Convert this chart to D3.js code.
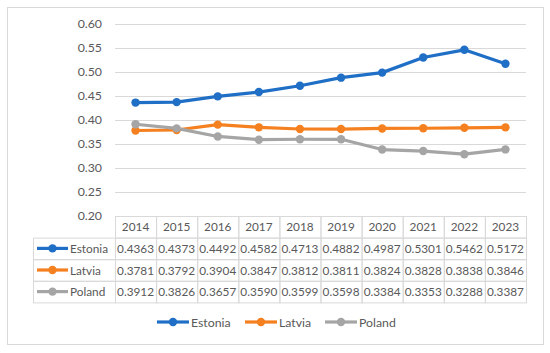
<!DOCTYPE html>
<html lang="en">
<head>
  <meta charset="UTF-8" />
  <script src="https://d3js.org/d3.v7.min.js"></script>
  <style>
    body { margin: 0; background: #fff; }
    text { font-family: Lato, "Open Sans", sans-serif; fill: #595959; }
  </style>
</head>
<body>
  <svg width="550" height="353"></svg>

  <script>
    const years = ["2014", "2015", "2016", "2017", "2018", "2019", "2020", "2021", "2022", "2023"];
    const estonia = [0.4363, 0.4373, 0.4492, 0.4582, 0.4713, 0.4882, 0.4987, 0.5301, 0.5462, 0.5172];
    const latvia = [0.3781, 0.3792, 0.3904, 0.3847, 0.3812, 0.3811, 0.3824, 0.3828, 0.3838, 0.3846];
    const poland = [0.3912, 0.3826, 0.3657, 0.3590, 0.3599, 0.3598, 0.3384, 0.3353, 0.3288, 0.3387];
    const yTicks = [0.20, 0.25, 0.30, 0.35, 0.40, 0.45, 0.50, 0.55, 0.60];

    const series = [
      { name: "Estonia", values: estonia, color: "#1f6fc6" },
      { name: "Latvia", values: latvia, color: "#f5801f" },
      { name: "Poland", values: poland, color: "#a5a5a5" }
    ];

    const fs = 11.8;
    const svg = d3.select("svg");

    // outer chart frame
    svg.append("rect")
      .attr("x", 7.5).attr("y", 7.5)
      .attr("width", 536).attr("height", 337)
      .attr("fill", "#fff")
      .attr("stroke", "#d9d9d9");

    const plotL = 115, plotR = 526, plotT = 24, plotB = 216;

    const x = d3.scaleBand().domain(years).range([plotL, plotR]);
    const y = d3.scaleLinear().domain([0.2, 0.6]).range([plotB, plotT]);

    // gridlines
    svg.append("g").selectAll("line")
      .data(yTicks)
      .enter().append("line")
      .attr("x1", plotL).attr("x2", plotR)
      .attr("y1", d => Math.round(y(d)) + 0.5)
      .attr("y2", d => Math.round(y(d)) + 0.5)
      .attr("stroke", "#d9d9d9")
      .attr("stroke-width", 1);

    // y axis labels
    const yAxis = svg.append("g")
      .attr("transform", `translate(${plotL - 13},0)`)
      .call(d3.axisLeft(y).tickValues(yTicks).tickFormat(d3.format(".2f")).tickSize(0).tickPadding(0));
    yAxis.select(".domain").remove();
    yAxis.selectAll("text")
      .attr("font-size", fs + 0.5)
      .attr("fill", "#595959")
      .style("font-family", "Lato, sans-serif");

    // lines
    const line = d3.line()
      .x((d, i) => x(years[i]) + x.bandwidth() / 2)
      .y(d => y(d));

    series.forEach(s => {
      svg.append("path")
        .datum(s.values)
        .attr("d", line)
        .attr("fill", "none")
        .attr("stroke", s.color)
        .attr("stroke-width", 3.2)
        .attr("stroke-linejoin", "round");
      svg.append("g").selectAll("circle")
        .data(s.values)
        .enter().append("circle")
        .attr("cx", (d, i) => x(years[i]) + x.bandwidth() / 2)
        .attr("cy", d => y(d))
        .attr("r", 4.2)
        .attr("fill", s.color);
    });

    // data table
    const rowH = 21.6;
    const tableTop = plotB;
    const labelLeft = 33;
    const table = svg.append("g");
    const border = "#d9d9d9";

    // header row (years)
    years.forEach(yr => {
      table.append("rect")
        .attr("x", x(yr) + 0.5).attr("y", tableTop + 0.5)
        .attr("width", x.bandwidth()).attr("height", rowH)
        .attr("fill", "none").attr("stroke", border);
      table.append("text")
        .attr("x", x(yr) + x.bandwidth() / 2)
        .attr("y", tableTop + rowH / 2 + 4.5)
        .attr("text-anchor", "middle")
        .attr("font-size", fs)
        .text(yr);
    });

    series.forEach((s, r) => {
      const ry = tableTop + rowH * (r + 1);
      table.append("rect")
        .attr("x", labelLeft + 0.5).attr("y", ry + 0.5)
        .attr("width", plotL - labelLeft).attr("height", rowH)
        .attr("fill", "none").attr("stroke", border);
      table.append("line")
        .attr("x1", 37).attr("x2", 68)
        .attr("y1", ry + rowH / 2).attr("y2", ry + rowH / 2)
        .attr("stroke", s.color).attr("stroke-width", 3.2);
      table.append("circle")
        .attr("cx", 52.5).attr("cy", ry + rowH / 2).attr("r", 4.2)
        .attr("fill", s.color);
      table.append("text")
        .attr("x", 70).attr("y", ry + rowH / 2 + 4.5)
        .attr("font-size", fs)
        .text(s.name);
      s.values.forEach((v, i) => {
        table.append("rect")
          .attr("x", x(years[i]) + 0.5).attr("y", ry + 0.5)
          .attr("width", x.bandwidth()).attr("height", rowH)
          .attr("fill", "none").attr("stroke", border);
        table.append("text")
          .attr("x", x(years[i]) + x.bandwidth() / 2)
          .attr("y", ry + rowH / 2 + 4.5)
          .attr("text-anchor", "middle")
          .attr("font-size", fs)
          .text(v.toFixed(4));
      });
    });

    // bottom legend
    const legendX = [157, 245, 325];
    const legendY = 322;
    series.forEach((s, i) => {
      const g = svg.append("g").attr("transform", `translate(${legendX[i]},${legendY})`);
      g.append("line").attr("x1", 0).attr("x2", 32)
        .attr("stroke", s.color).attr("stroke-width", 3.2);
      g.append("circle").attr("cx", 16).attr("r", 4.2).attr("fill", s.color);
      g.append("text").attr("x", 34).attr("y", 4.5)
        .attr("font-size", fs + 0.5)
        .text(s.name);
    });
  </script>
</body>
</html>
